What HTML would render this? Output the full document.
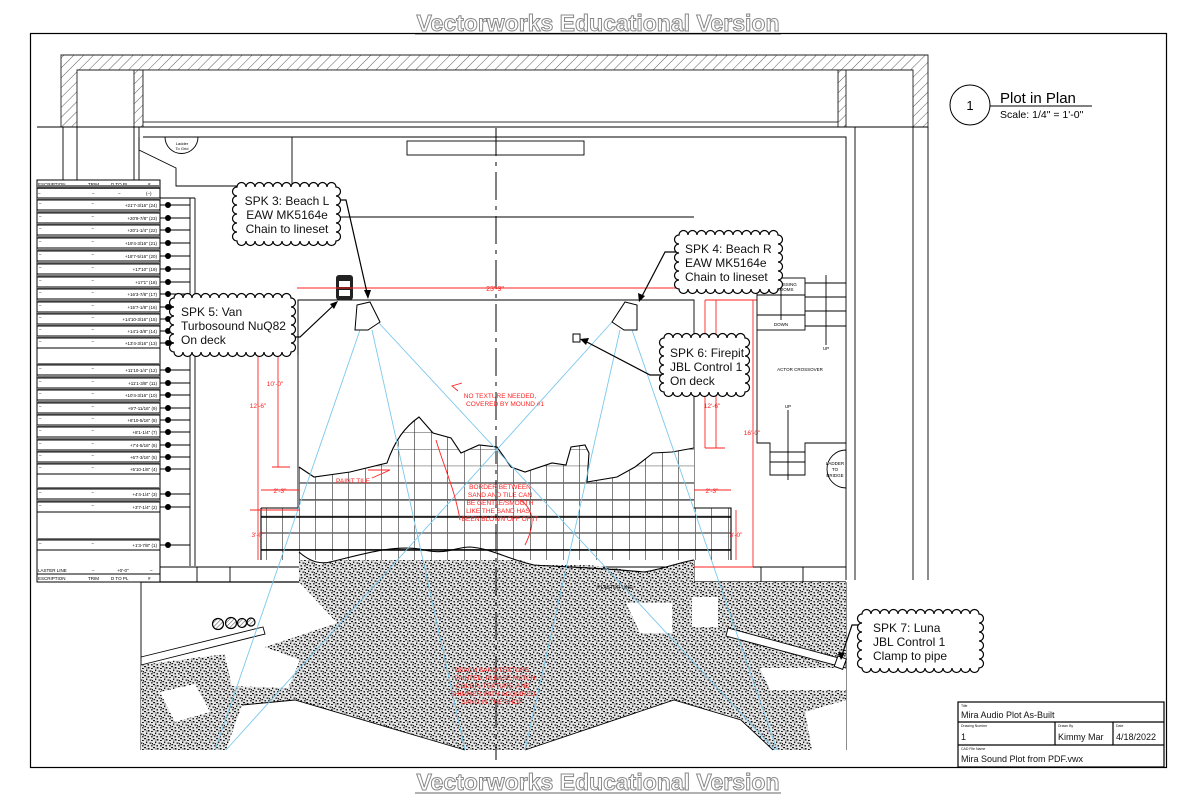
<!DOCTYPE html>
<html><head><meta charset="utf-8"><style>
html,body{margin:0;padding:0;background:#fff}
svg{display:block}
text{font-family:"Liberation Sans",sans-serif}
</style></head><body>
<svg width="1196" height="800" viewBox="0 0 1196 800" xmlns="http://www.w3.org/2000/svg">
<defs>
<pattern id="hatch" width="7" height="7" patternUnits="userSpaceOnUse" patternTransform="rotate(45)">
<line x1="0" y1="0" x2="0" y2="7" stroke="#333" stroke-width="0.8"/>
</pattern>
<pattern id="hatch2" width="3" height="3" patternUnits="userSpaceOnUse" patternTransform="rotate(45)">
<line x1="0" y1="0" x2="0" y2="3" stroke="#222" stroke-width="0.8"/>
</pattern>
<pattern id="stip" width="9" height="9" patternUnits="userSpaceOnUse">
<rect width="9" height="9" fill="#e4e4e4"/>
<rect x="0" y="0" width="2" height="1.2" fill="#111"/>
<rect x="4" y="1" width="1.5" height="1.5" fill="#111"/>
<rect x="7" y="2" width="1.8" height="1" fill="#111"/>
<rect x="2" y="3.5" width="1.3" height="1.6" fill="#111"/>
<rect x="5.5" y="4.5" width="2" height="1.2" fill="#111"/>
<rect x="0.5" y="6" width="1.6" height="1.2" fill="#111"/>
<rect x="3.5" y="7" width="1.4" height="1.5" fill="#111"/>
<rect x="7" y="7.2" width="1.6" height="1.2" fill="#111"/>
<rect x="8" y="5" width="1" height="1.4" fill="#111"/>
<rect x="2.5" y="1.5" width="1" height="1" fill="#111"/>
</pattern>
<pattern id="grid" width="16.5" height="16.7" patternUnits="userSpaceOnUse" x="299" y="449">
<line x1="0" y1="0" x2="0" y2="17" stroke="#000" stroke-width="1"/>
<line x1="0" y1="0" x2="17" y2="0" stroke="#444" stroke-width="1"/>
</pattern>
<clipPath id="tileclip"><path d="M299,467 L314,477 L350,472 L387,463 L405,427 L419,417 L433,433 L451,438 L461,453 L479,445 L497,447 L511,467 L525,472 L552,463 L566,465 L571,447 L585,445 L589,453 L587,482 L617,477 L635,467 L653,453 L672,452 L694,448 L694,508 L731,508 L731,560 L261,560 L261,508 L299,508 Z"/></clipPath>
</defs>

<text x="598" y="31" text-anchor="middle" font-size="23" font-weight="bold" fill="#fff" stroke="#888" stroke-width="1">Vectorworks Educational Version</text>
<line x1="415" y1="34" x2="781" y2="34" stroke="#999" stroke-width="1.5"/>
<text x="598" y="790" text-anchor="middle" font-size="23" font-weight="bold" fill="#fff" stroke="#888" stroke-width="1">Vectorworks Educational Version</text>
<line x1="415" y1="793" x2="781" y2="793" stroke="#999" stroke-width="1.5"/>

<rect x="30.5" y="33.5" width="1136" height="734" fill="none" stroke="#000" stroke-width="1.2"/>

<g stroke="#222" stroke-width="0.9">
<path d="M61,55 H928 V127 H913 V70 H77 V127 H61 Z" fill="url(#hatch)"/>
<rect x="134" y="70" width="9" height="57" fill="url(#hatch)"/>
<rect x="838" y="70" width="8" height="57" fill="url(#hatch)"/>
<rect x="143" y="70" width="695" height="52" fill="#fff"/>
</g>
<g stroke="#000" fill="none" stroke-width="0.9">
<line x1="37" y1="127" x2="928" y2="127" stroke-width="1.1"/>
<line x1="63" y1="127" x2="63" y2="180"/>
<line x1="77" y1="127" x2="77" y2="180"/>
<line x1="134" y1="127" x2="134" y2="180"/>
<line x1="139" y1="127" x2="139" y2="180"/>
<path d="M143,137 H846 V580"/>
<line x1="855" y1="127" x2="855" y2="580"/>
<line x1="913" y1="127" x2="913" y2="580"/>
<line x1="928" y1="127" x2="928" y2="580"/>
<path d="M139,137 L139,150 L176,168 L176,186 L292,186 L292,137"/>
<path d="M165,137 A16,16 0 0 0 198,137"/>
<rect x="407" y="141" width="177" height="14"/>
<line x1="335" y1="217" x2="694" y2="217"/>
<line x1="190" y1="198" x2="190" y2="566"/>
<line x1="195" y1="198" x2="195" y2="566"/>
<line x1="143" y1="198" x2="195" y2="198"/>
<path d="M298,355 V300 H694 V582"/>
<line x1="298" y1="300" x2="298" y2="560"/>
<line x1="130" y1="567" x2="846" y2="567"/>
<line x1="141" y1="582" x2="846" y2="582" stroke-width="1.2"/>
<line x1="141" y1="582" x2="141" y2="750"/>
<line x1="846" y1="582" x2="846" y2="750"/>
<line x1="197" y1="567" x2="197" y2="582"/><line x1="230" y1="567" x2="230" y2="582"/>
<line x1="761" y1="567" x2="761" y2="582"/><line x1="803" y1="567" x2="803" y2="582"/>
</g>
<text x="182" y="145" font-size="4" text-anchor="middle">Ladder</text>
<text x="182" y="150" font-size="4" text-anchor="middle">To Grid</text>

<path d="M299,552 L318,565 L350,557 L405,547 L442,555 L470,547 L497,552 L534,565 L589,565 L644,572 L694,560 L694,582 L846,582 L846,750 L141,750 L141,665 L256,650 L337,623 L299,582 Z" fill="url(#stip)"/>
<g fill="#fff">
<path d="M242,705 L295,700 L465,750 L226,750 Z"/>
<path d="M525,750 L674,700 L741,720 L773,750 Z"/>
<path d="M626,603 L672,603 L672,633 L640,633 Z"/>
<path d="M692,597 L718,597 L718,627 L692,627 Z"/>
<path d="M160,692 L195,684 L210,712 L175,722 Z"/>
<path d="M224,652 L262,646 L300,660 L288,688 L232,686 Z"/>
<path d="M805,712 L846,700 L846,750 L812,750 Z"/>
<path d="M760,668 L846,668 L846,690 L770,690 Z"/>
</g>
<g stroke="#000" fill="none" stroke-width="0.9">
<path d="M242,705 L295,700 L465,750"/>
<path d="M525,750 L674,700 L741,720 L773,750"/>
<path d="M141,657 L263,627 L265,634 L141,665"/>
<path d="M728,628 L846,660 L846,668 L726,636 Z" fill="#fff"/>
</g>
<g fill="url(#hatch2)" stroke="#000" stroke-width="1.2">
<circle cx="218" cy="624" r="5.5"/><circle cx="231" cy="623" r="5.5"/><circle cx="242" cy="623" r="4.5"/><circle cx="251" cy="622" r="4"/>
</g>

<g clip-path="url(#tileclip)">
<rect x="255" y="400" width="480" height="170" fill="#fff"/>
<rect x="255" y="400" width="480" height="170" fill="url(#grid)"/>
<g stroke="#000" stroke-width="1.4"><line x1="255" y1="517" x2="735" y2="517"/><line x1="255" y1="550" x2="735" y2="550"/></g>
<g stroke="#666" stroke-width="1.5"><line x1="255" y1="483" x2="735" y2="483"/><line x1="255" y1="500" x2="735" y2="500"/><line x1="255" y1="533" x2="735" y2="533"/></g>
</g>
<path d="M261,508 H299 M299,467 L314,477 L350,472 L387,463 C395,440 405,427 419,417 L433,433 L451,438 L461,453 L479,445 L497,447 L511,467 L525,472 L552,463 L566,465 L571,447 L585,445 L589,453 L587,482 L617,477 L635,467 L653,453 L672,452 L694,448 M694,508 H731 V560 M261,508 V560" fill="none" stroke="#000" stroke-width="1.1"/>
<path d="M299,552 C308,560 318,565 330,562 C360,555 390,545 420,549 C445,556 455,547 470,547 C490,548 510,560 534,565 C560,567 589,567 644,572 C660,570 680,562 694,560" fill="none" stroke="#000" stroke-width="1.1"/>

<line x1="496" y1="128" x2="496" y2="760" stroke="#000" stroke-width="1" stroke-dasharray="28,6,4,6"/>

<g stroke="#7cc8ec" stroke-width="0.9" fill="none">
<line x1="360" y1="330" x2="215" y2="750"/>
<line x1="372" y1="330" x2="465" y2="750"/>
<line x1="378" y1="322" x2="775" y2="750"/>
<line x1="612" y1="322" x2="226" y2="750"/>
<line x1="620" y1="330" x2="525" y2="750"/>
<line x1="632" y1="330" x2="777" y2="750"/>
</g>

<path d="M357,305 L370,302 L380,322 L368,330 L355,330 Z" fill="#fff" stroke="#000" stroke-width="1"/>
<path d="M625,302 L637,305 L637,330 L624,330 L612,322 Z" fill="#fff" stroke="#000" stroke-width="1"/>
<rect x="573" y="334" width="7" height="8" fill="#fff" stroke="#000"/>
<rect x="336" y="275" width="17" height="25" fill="#222" rx="3"/>
<rect x="339" y="281" width="11" height="6" fill="#fff"/><rect x="339" y="290" width="11" height="6" fill="#fff"/>
<rect x="836" y="657" width="9" height="11" fill="#fff" stroke="#000" transform="rotate(20 840 662)"/>

<g stroke="#f22" stroke-width="0.9" fill="none">
<line x1="297" y1="288" x2="697" y2="288"/>
<line x1="278" y1="300" x2="278" y2="467"/><line x1="272" y1="467" x2="290" y2="467"/>
<line x1="258" y1="300" x2="258" y2="510"/><line x1="250" y1="510" x2="300" y2="510"/>
<line x1="258" y1="510" x2="258" y2="560"/>
<line x1="261" y1="490" x2="299" y2="490"/>
<line x1="716" y1="300" x2="716" y2="448"/><line x1="705" y1="448" x2="725" y2="448"/>
<line x1="694" y1="490" x2="731" y2="490"/>
<line x1="736" y1="510" x2="736" y2="560"/>
<line x1="753" y1="300" x2="753" y2="567"/>
<line x1="705" y1="300" x2="757" y2="300"/>
<line x1="705" y1="300" x2="705" y2="448"/>
<line x1="694" y1="567" x2="753" y2="567"/>
<path d="M458,391 L452,386 L462,383"/>
<path d="M368,470 L390,470 L372,478"/>
<path d="M436,440 C445,470 455,490 460,520"/>
<path d="M520,500 C535,510 535,525 525,545"/>
</g>
<g fill="#f22" font-size="6.5" text-anchor="middle">
<text x="495" y="291" font-size="7">23'-9"</text>
<text x="275" y="386">10'-0"</text>
<text x="258" y="408">12'-6"</text>
<text x="258" y="537">3'-0"</text>
<text x="280" y="493">2'-3"</text>
<text x="712" y="408">12'-6"</text>
<text x="712" y="493">2'-3"</text>
<text x="736" y="537">3'-0"</text>
<text x="752" y="435">16'-0"</text>
<text x="500" y="398">NO TEXTURE NEEDED,</text>
<text x="505" y="406">COVERED BY MOUND #1</text>
<text x="353" y="483">PAINT TILE</text>
<text x="500" y="489">BORDER BETWEEN</text>
<text x="500" y="497">SAND AND TILE CAN</text>
<text x="500" y="505">BE GENTLE/SMOOTH</text>
<text x="498" y="513">LIKE THE SAND HAS</text>
<text x="500" y="521">BEEN BLOWN OFF OF IT</text>
<text x="492" y="672">BEACH SAND TEXTURE</text>
<text x="495" y="680">PAINTED. PLEASE MATCH</text>
<text x="493" y="688">COLOR, TEXTURE, AND</text>
<text x="493" y="696">SHIMMER WITH ACQUIRED</text>
<text x="492" y="704">SAND IN THE SHOP</text>
</g>
<text x="615" y="589" font-size="5" text-anchor="middle">PLASTER LINE</text>

<g stroke="#000" fill="none" stroke-width="0.9">
<rect x="757" y="278" width="48" height="52"/>
<line x1="757" y1="295" x2="805" y2="295"/><line x1="757" y1="315" x2="805" y2="315"/>
<line x1="805" y1="283" x2="846" y2="283"/><line x1="805" y1="297" x2="846" y2="297"/><line x1="805" y1="311" x2="846" y2="311"/><line x1="805" y1="326" x2="846" y2="326"/>
<line x1="781" y1="283" x2="781" y2="320"/>
<line x1="826" y1="275" x2="826" y2="345"/>
<path d="M757,330 V443 H770 V475 H805 V443 H846"/>
<line x1="770" y1="452" x2="805" y2="452"/><line x1="770" y1="462" x2="805" y2="462"/>
<line x1="788" y1="410" x2="788" y2="480"/>
<path d="M846,450 A18,18 0 0 0 846,488 Z" fill="#fff"/>
</g>
<g font-size="4.5" text-anchor="middle">
<text x="785" y="286">DRESSING</text><text x="785" y="291">ROOMS</text>
<text x="781" y="326">DOWN</text>
<text x="826" y="350">UP</text>
<text x="800" y="371">ACTOR  CROSSOVER</text>
<text x="788" y="408">UP</text>
<text x="835" y="465">LADDER</text><text x="835" y="471">TO</text><text x="835" y="477">BRIDGE</text>
</g>

<g stroke="#000" stroke-width="1" fill="none">
<rect x="37" y="180" width="123" height="402" fill="#fff"/>
<line x1="37" y1="188" x2="160" y2="188"/>
<line x1="37" y1="574" x2="160" y2="574"/>
</g>
<g font-size="4.5" fill="#000">
<text x="38" y="186">ESCRIPTION</text><text x="88" y="186">TRIM</text><text x="111" y="186">D TO PL</text><text x="148" y="186">#</text>
<text x="38" y="572">LASTER LINE</text><text x="92" y="572">–</text><text x="117" y="572">+0'-0"</text><text x="150" y="572">–</text>
<text x="38" y="580">ESCRIPTION</text><text x="88" y="580">TRIM</text><text x="111" y="580">D TO PL</text><text x="148" y="580">#</text>
</g>
<line x1="37" y1="188" x2="160" y2="188" stroke="#888" stroke-width="2"/>
<g font-size="4.5">
<g transform="translate(0,193)"><line x1="37" y1="-7" x2="160" y2="-7" stroke="#777" stroke-width="2"/><rect x="37" y="-5" width="123" height="10" fill="none" stroke="#000"/><text x="38" y="2">–</text><text x="92" y="2">–</text><text x="118" y="2">–</text><text x="146" y="2">(–)</text></g>
</g>
<g font-size="4.5" text-anchor="end">
<g transform="translate(0,205)"><line x1="37" y1="-6" x2="160" y2="-6" stroke="#777" stroke-width="2"/><rect x="37" y="-5" width="123" height="10" fill="none" stroke="#000"/><text x="39" y="0" text-anchor="start">–</text><text x="94" y="0">–</text><text x="157" y="2">+21'7-3/16" (24)</text></g>
<g transform="translate(0,218)"><line x1="37" y1="-6" x2="160" y2="-6" stroke="#777" stroke-width="2"/><rect x="37" y="-5" width="123" height="10" fill="none" stroke="#000"/><text x="39" y="0" text-anchor="start">–</text><text x="94" y="0">–</text><text x="157" y="2">+20'9-7/8" (23)</text></g>
<g transform="translate(0,230)"><line x1="37" y1="-6" x2="160" y2="-6" stroke="#777" stroke-width="2"/><rect x="37" y="-5" width="123" height="10" fill="none" stroke="#000"/><text x="39" y="0" text-anchor="start">–</text><text x="94" y="0">–</text><text x="157" y="2">+20'1-1/4" (22)</text></g>
<g transform="translate(0,243)"><line x1="37" y1="-6" x2="160" y2="-6" stroke="#777" stroke-width="2"/><rect x="37" y="-5" width="123" height="10" fill="none" stroke="#000"/><text x="39" y="0" text-anchor="start">–</text><text x="94" y="0">–</text><text x="157" y="2">+19'4-3/16" (21)</text></g>
<g transform="translate(0,256)"><line x1="37" y1="-6" x2="160" y2="-6" stroke="#777" stroke-width="2"/><rect x="37" y="-5" width="123" height="10" fill="none" stroke="#000"/><text x="39" y="0" text-anchor="start">–</text><text x="94" y="0">–</text><text x="157" y="2">+18'7-5/16" (20)</text></g>
<g transform="translate(0,269)"><line x1="37" y1="-6" x2="160" y2="-6" stroke="#777" stroke-width="2"/><rect x="37" y="-5" width="123" height="10" fill="none" stroke="#000"/><text x="39" y="0" text-anchor="start">–</text><text x="94" y="0">–</text><text x="157" y="2">+17'10" (19)</text></g>
<g transform="translate(0,282)"><line x1="37" y1="-6" x2="160" y2="-6" stroke="#777" stroke-width="2"/><rect x="37" y="-5" width="123" height="10" fill="none" stroke="#000"/><text x="39" y="0" text-anchor="start">–</text><text x="94" y="0">–</text><text x="157" y="2">+17'1" (18)</text></g>
<g transform="translate(0,294)"><line x1="37" y1="-6" x2="160" y2="-6" stroke="#777" stroke-width="2"/><rect x="37" y="-5" width="123" height="10" fill="none" stroke="#000"/><text x="39" y="0" text-anchor="start">–</text><text x="94" y="0">–</text><text x="157" y="2">+16'3-7/8" (17)</text></g>
<g transform="translate(0,307)"><line x1="37" y1="-6" x2="160" y2="-6" stroke="#777" stroke-width="2"/><rect x="37" y="-5" width="123" height="10" fill="none" stroke="#000"/><text x="39" y="0" text-anchor="start">–</text><text x="94" y="0">–</text><text x="157" y="2">+15'7-1/8" (16)</text></g>
<g transform="translate(0,319)"><line x1="37" y1="-6" x2="160" y2="-6" stroke="#777" stroke-width="2"/><rect x="37" y="-5" width="123" height="10" fill="none" stroke="#000"/><text x="39" y="0" text-anchor="start">–</text><text x="94" y="0">–</text><text x="157" y="2">+14'10-3/16" (15)</text></g>
<g transform="translate(0,331)"><line x1="37" y1="-6" x2="160" y2="-6" stroke="#777" stroke-width="2"/><rect x="37" y="-5" width="123" height="10" fill="none" stroke="#000"/><text x="39" y="0" text-anchor="start">–</text><text x="94" y="0">–</text><text x="157" y="2">+14'1-3/8" (14)</text></g>
<g transform="translate(0,343)"><line x1="37" y1="-6" x2="160" y2="-6" stroke="#777" stroke-width="2"/><rect x="37" y="-5" width="123" height="10" fill="none" stroke="#000"/><text x="39" y="0" text-anchor="start">–</text><text x="94" y="0">–</text><text x="157" y="2">+13'4-3/16" (13)</text></g>
<g transform="translate(0,370)"><line x1="37" y1="-6" x2="160" y2="-6" stroke="#777" stroke-width="2"/><rect x="37" y="-5" width="123" height="10" fill="none" stroke="#000"/><text x="39" y="0" text-anchor="start">–</text><text x="94" y="0">–</text><text x="157" y="2">+11'10-1/4" (12)</text></g>
<g transform="translate(0,383)"><line x1="37" y1="-6" x2="160" y2="-6" stroke="#777" stroke-width="2"/><rect x="37" y="-5" width="123" height="10" fill="none" stroke="#000"/><text x="39" y="0" text-anchor="start">–</text><text x="94" y="0">–</text><text x="157" y="2">+11'1-3/8" (11)</text></g>
<g transform="translate(0,395)"><line x1="37" y1="-6" x2="160" y2="-6" stroke="#777" stroke-width="2"/><rect x="37" y="-5" width="123" height="10" fill="none" stroke="#000"/><text x="39" y="0" text-anchor="start">–</text><text x="94" y="0">–</text><text x="157" y="2">+10'4-3/16" (10)</text></g>
<g transform="translate(0,408)"><line x1="37" y1="-6" x2="160" y2="-6" stroke="#777" stroke-width="2"/><rect x="37" y="-5" width="123" height="10" fill="none" stroke="#000"/><text x="39" y="0" text-anchor="start">–</text><text x="94" y="0">–</text><text x="157" y="2">+9'7-11/16" (9)</text></g>
<g transform="translate(0,420)"><line x1="37" y1="-6" x2="160" y2="-6" stroke="#777" stroke-width="2"/><rect x="37" y="-5" width="123" height="10" fill="none" stroke="#000"/><text x="39" y="0" text-anchor="start">–</text><text x="94" y="0">–</text><text x="157" y="2">+8'10-5/16" (8)</text></g>
<g transform="translate(0,432)"><line x1="37" y1="-6" x2="160" y2="-6" stroke="#777" stroke-width="2"/><rect x="37" y="-5" width="123" height="10" fill="none" stroke="#000"/><text x="39" y="0" text-anchor="start">–</text><text x="94" y="0">–</text><text x="157" y="2">+8'1-1/4" (7)</text></g>
<g transform="translate(0,445)"><line x1="37" y1="-6" x2="160" y2="-6" stroke="#777" stroke-width="2"/><rect x="37" y="-5" width="123" height="10" fill="none" stroke="#000"/><text x="39" y="0" text-anchor="start">–</text><text x="94" y="0">–</text><text x="157" y="2">+7'4-5/16" (6)</text></g>
<g transform="translate(0,457)"><line x1="37" y1="-6" x2="160" y2="-6" stroke="#777" stroke-width="2"/><rect x="37" y="-5" width="123" height="10" fill="none" stroke="#000"/><text x="39" y="0" text-anchor="start">–</text><text x="94" y="0">–</text><text x="157" y="2">+6'7-3/16" (5)</text></g>
<g transform="translate(0,469)"><line x1="37" y1="-6" x2="160" y2="-6" stroke="#777" stroke-width="2"/><rect x="37" y="-5" width="123" height="10" fill="none" stroke="#000"/><text x="39" y="0" text-anchor="start">–</text><text x="94" y="0">–</text><text x="157" y="2">+5'10-1/8" (4)</text></g>
<g transform="translate(0,494)"><line x1="37" y1="-6" x2="160" y2="-6" stroke="#777" stroke-width="2"/><rect x="37" y="-5" width="123" height="10" fill="none" stroke="#000"/><text x="39" y="0" text-anchor="start">–</text><text x="94" y="0">–</text><text x="157" y="2">+4'4-1/4" (3)</text></g>
<g transform="translate(0,507)"><line x1="37" y1="-6" x2="160" y2="-6" stroke="#777" stroke-width="2"/><rect x="37" y="-5" width="123" height="10" fill="none" stroke="#000"/><text x="39" y="0" text-anchor="start">–</text><text x="94" y="0">–</text><text x="157" y="2">+3'7-1/4" (2)</text></g>
<g transform="translate(0,545)"><line x1="37" y1="-6" x2="160" y2="-6" stroke="#777" stroke-width="2"/><rect x="37" y="-5" width="123" height="10" fill="none" stroke="#000"/><text x="39" y="0" text-anchor="start">–</text><text x="94" y="0">–</text><text x="157" y="2">+1'3-7/8" (1)</text></g>
</g>
<g stroke="#000" stroke-width="1">
<path d="M160,205H190M160,218H190M160,230H190M160,243H190M160,256H190M160,269H190M160,282H190M160,294H190M160,307H190M160,319H190M160,331H190M160,343H190M160,370H190M160,383H190M160,395H190M160,408H190M160,420H190M160,432H190M160,445H190M160,457H190M160,469H190M160,494H190M160,507H190M160,545H190"/>
</g>
<g fill="#000">
<circle cx="168" cy="205" r="3"/><circle cx="168" cy="218" r="3"/><circle cx="168" cy="230" r="3"/><circle cx="168" cy="243" r="3"/><circle cx="168" cy="256" r="3"/><circle cx="168" cy="269" r="3"/><circle cx="168" cy="282" r="3"/><circle cx="168" cy="294" r="3"/><circle cx="168" cy="307" r="3"/><circle cx="168" cy="319" r="3"/><circle cx="168" cy="331" r="3"/><circle cx="168" cy="343" r="3"/><circle cx="168" cy="370" r="3"/><circle cx="168" cy="383" r="3"/><circle cx="168" cy="395" r="3"/><circle cx="168" cy="408" r="3"/><circle cx="168" cy="420" r="3"/><circle cx="168" cy="432" r="3"/><circle cx="168" cy="445" r="3"/><circle cx="168" cy="457" r="3"/><circle cx="168" cy="469" r="3"/><circle cx="168" cy="494" r="3"/><circle cx="168" cy="507" r="3"/><circle cx="168" cy="545" r="3"/>
</g>

<g stroke="#000" stroke-width="1.2" fill="none">
<path d="M335,200 H346 L368,297"/>
<path d="M679,252 H665 L640,300"/>
<path d="M288,337 H300 L336,303"/>
<path d="M664,375 H650 L583,340"/>
<path d="M862,625 H852 L841,658"/>
</g>
<g fill="#000">
<path d="M368,299 L364,290 L371,290 Z"/>
<path d="M639,302 L638,293 L645,296 Z"/>
<path d="M338,301 L330,304 L334,309 Z"/>
<path d="M580,339 L586,345 L589,338 Z"/>
<path d="M841,660 L838,652 L845,653 Z"/>
</g>

<g fill="#fff" stroke="#000" stroke-width="1.2">
<path d="M237,187 a4.5,4.5 0 0 1 9,0 a4.5,4.5 0 0 1 9,0 a4.5,4.5 0 0 1 9,0 a4.5,4.5 0 0 1 9,0 a4.5,4.5 0 0 1 9,0 a4.5,4.5 0 0 1 9,0 a4.5,4.5 0 0 1 9,0 a4.5,4.5 0 0 1 9,0 a4.5,4.5 0 0 1 9,0 a4.5,4.5 0 0 1 9,0 a4.5,4.5 0 0 1 9,0 a4.5,4.5 0 0 1 0,9 a4.5,4.5 0 0 1 0,9 a4.5,4.5 0 0 1 0,9 a4.5,4.5 0 0 1 0,9 a4.5,4.5 0 0 1 0,9 a4.5,4.5 0 0 1 0,9 a4.5,4.5 0 0 1 -9,0 a4.5,4.5 0 0 1 -9,0 a4.5,4.5 0 0 1 -9,0 a4.5,4.5 0 0 1 -9,0 a4.5,4.5 0 0 1 -9,0 a4.5,4.5 0 0 1 -9,0 a4.5,4.5 0 0 1 -9,0 a4.5,4.5 0 0 1 -9,0 a4.5,4.5 0 0 1 -9,0 a4.5,4.5 0 0 1 -9,0 a4.5,4.5 0 0 1 -9,0 a4.5,4.5 0 0 1 0,-9 a4.5,4.5 0 0 1 0,-9 a4.5,4.5 0 0 1 0,-9 a4.5,4.5 0 0 1 0,-9 a4.5,4.5 0 0 1 0,-9 a4.5,4.5 0 0 1 0,-9 Z"/>
<path d="M679,235 a4.5,4.5 0 0 1 9,0 a4.5,4.5 0 0 1 9,0 a4.5,4.5 0 0 1 9,0 a4.5,4.5 0 0 1 9,0 a4.5,4.5 0 0 1 9,0 a4.5,4.5 0 0 1 9,0 a4.5,4.5 0 0 1 9,0 a4.5,4.5 0 0 1 9,0 a4.5,4.5 0 0 1 9,0 a4.5,4.5 0 0 1 9,0 a4.5,4.5 0 0 1 9,0 a4.5,4.5 0 0 1 0,9 a4.5,4.5 0 0 1 0,9 a4.5,4.5 0 0 1 0,9 a4.5,4.5 0 0 1 0,9 a4.5,4.5 0 0 1 0,9 a4.5,4.5 0 0 1 0,9 a4.5,4.5 0 0 1 -9,0 a4.5,4.5 0 0 1 -9,0 a4.5,4.5 0 0 1 -9,0 a4.5,4.5 0 0 1 -9,0 a4.5,4.5 0 0 1 -9,0 a4.5,4.5 0 0 1 -9,0 a4.5,4.5 0 0 1 -9,0 a4.5,4.5 0 0 1 -9,0 a4.5,4.5 0 0 1 -9,0 a4.5,4.5 0 0 1 -9,0 a4.5,4.5 0 0 1 -9,0 a4.5,4.5 0 0 1 0,-9 a4.5,4.5 0 0 1 0,-9 a4.5,4.5 0 0 1 0,-9 a4.5,4.5 0 0 1 0,-9 a4.5,4.5 0 0 1 0,-9 a4.5,4.5 0 0 1 0,-9 Z"/>
<path d="M174,298 a4.5,4.5 0 0 1 9,0 a4.5,4.5 0 0 1 9,0 a4.5,4.5 0 0 1 9,0 a4.5,4.5 0 0 1 9,0 a4.5,4.5 0 0 1 9,0 a4.5,4.5 0 0 1 9,0 a4.5,4.5 0 0 1 9,0 a4.5,4.5 0 0 1 9,0 a4.5,4.5 0 0 1 9,0 a4.5,4.5 0 0 1 9,0 a4.5,4.5 0 0 1 9,0 a4.5,4.5 0 0 1 9,0 a4.5,4.5 0 0 1 9,0 a4.5,4.5 0 0 1 0,9 a4.5,4.5 0 0 1 0,9 a4.5,4.5 0 0 1 0,9 a4.5,4.5 0 0 1 0,9 a4.5,4.5 0 0 1 0,9 a4.5,4.5 0 0 1 0,9 a4.5,4.5 0 0 1 -9,0 a4.5,4.5 0 0 1 -9,0 a4.5,4.5 0 0 1 -9,0 a4.5,4.5 0 0 1 -9,0 a4.5,4.5 0 0 1 -9,0 a4.5,4.5 0 0 1 -9,0 a4.5,4.5 0 0 1 -9,0 a4.5,4.5 0 0 1 -9,0 a4.5,4.5 0 0 1 -9,0 a4.5,4.5 0 0 1 -9,0 a4.5,4.5 0 0 1 -9,0 a4.5,4.5 0 0 1 -9,0 a4.5,4.5 0 0 1 -9,0 a4.5,4.5 0 0 1 0,-9 a4.5,4.5 0 0 1 0,-9 a4.5,4.5 0 0 1 0,-9 a4.5,4.5 0 0 1 0,-9 a4.5,4.5 0 0 1 0,-9 a4.5,4.5 0 0 1 0,-9 Z"/>
<path d="M664,338 a4.5,4.5 0 0 1 9,0 a4.5,4.5 0 0 1 9,0 a4.5,4.5 0 0 1 9,0 a4.5,4.5 0 0 1 9,0 a4.5,4.5 0 0 1 9,0 a4.5,4.5 0 0 1 9,0 a4.5,4.5 0 0 1 9,0 a4.5,4.5 0 0 1 9,0 a4.5,4.5 0 0 1 9,0 a4.5,4.5 0 0 1 0,9 a4.5,4.5 0 0 1 0,9 a4.5,4.5 0 0 1 0,9 a4.5,4.5 0 0 1 0,9 a4.5,4.5 0 0 1 0,9 a4.5,4.5 0 0 1 0,9 a4.5,4.5 0 0 1 -9,0 a4.5,4.5 0 0 1 -9,0 a4.5,4.5 0 0 1 -9,0 a4.5,4.5 0 0 1 -9,0 a4.5,4.5 0 0 1 -9,0 a4.5,4.5 0 0 1 -9,0 a4.5,4.5 0 0 1 -9,0 a4.5,4.5 0 0 1 -9,0 a4.5,4.5 0 0 1 -9,0 a4.5,4.5 0 0 1 0,-9 a4.5,4.5 0 0 1 0,-9 a4.5,4.5 0 0 1 0,-9 a4.5,4.5 0 0 1 0,-9 a4.5,4.5 0 0 1 0,-9 a4.5,4.5 0 0 1 0,-9 Z"/>
<path d="M862,614 a4.5,4.5 0 0 1 9,0 a4.5,4.5 0 0 1 9,0 a4.5,4.5 0 0 1 9,0 a4.5,4.5 0 0 1 9,0 a4.5,4.5 0 0 1 9,0 a4.5,4.5 0 0 1 9,0 a4.5,4.5 0 0 1 9,0 a4.5,4.5 0 0 1 9,0 a4.5,4.5 0 0 1 9,0 a4.5,4.5 0 0 1 9,0 a4.5,4.5 0 0 1 9,0 a4.5,4.5 0 0 1 9,0 a4.5,4.5 0 0 1 9,0 a4.5,4.5 0 0 1 0,9 a4.5,4.5 0 0 1 0,9 a4.5,4.5 0 0 1 0,9 a4.5,4.5 0 0 1 0,9 a4.5,4.5 0 0 1 0,9 a4.5,4.5 0 0 1 0,9 a4.5,4.5 0 0 1 -9,0 a4.5,4.5 0 0 1 -9,0 a4.5,4.5 0 0 1 -9,0 a4.5,4.5 0 0 1 -9,0 a4.5,4.5 0 0 1 -9,0 a4.5,4.5 0 0 1 -9,0 a4.5,4.5 0 0 1 -9,0 a4.5,4.5 0 0 1 -9,0 a4.5,4.5 0 0 1 -9,0 a4.5,4.5 0 0 1 -9,0 a4.5,4.5 0 0 1 -9,0 a4.5,4.5 0 0 1 -9,0 a4.5,4.5 0 0 1 -9,0 a4.5,4.5 0 0 1 0,-9 a4.5,4.5 0 0 1 0,-9 a4.5,4.5 0 0 1 0,-9 a4.5,4.5 0 0 1 0,-9 a4.5,4.5 0 0 1 0,-9 a4.5,4.5 0 0 1 0,-9 Z"/>
</g>
<g font-size="12" fill="#111">
<text x="287" y="205" text-anchor="middle">SPK 3: Beach L</text>
<text x="287" y="219" text-anchor="middle">EAW MK5164e</text>
<text x="287" y="233" text-anchor="middle">Chain to lineset</text>
<text x="685" y="253">SPK 4: Beach R</text>
<text x="685" y="267">EAW MK5164e</text>
<text x="685" y="281">Chain to lineset</text>
<text x="181" y="316">SPK 5: Van</text>
<text x="181" y="330">Turbosound NuQ82</text>
<text x="181" y="344">On deck</text>
<text x="670" y="357">SPK 6: Firepit</text>
<text x="670" y="371">JBL Control 1</text>
<text x="670" y="385">On deck</text>
<text x="873" y="632">SPK 7: Luna</text>
<text x="873" y="646">JBL Control 1</text>
<text x="873" y="660">Clamp to pipe</text>
</g>

<circle cx="970" cy="105" r="20" fill="#fff" stroke="#000" stroke-width="1"/>
<text x="970" y="110" font-size="13" text-anchor="middle">1</text>
<line x1="990" y1="106" x2="1092" y2="106" stroke="#000"/>
<text x="1000" y="103" font-size="15">Plot in Plan</text>
<text x="1000" y="118" font-size="10.5">Scale: 1/4" = 1'-0"</text>

<g stroke="#000" stroke-width="1.2" fill="none">
<rect x="958" y="702" width="206" height="65"/>
<line x1="958" y1="722" x2="1164" y2="722"/>
<line x1="958" y1="745" x2="1164" y2="745"/>
<line x1="1055" y1="722" x2="1055" y2="745"/>
<line x1="1113" y1="722" x2="1113" y2="745"/>
</g>
<g fill="#111">
<text x="961" y="707" font-size="3.5">Title</text>
<text x="961" y="718" font-size="9">Mira Audio Plot As-Built</text>
<text x="961" y="727" font-size="3.5">Drawing Number</text>
<text x="961" y="740" font-size="9">1</text>
<text x="1058" y="727" font-size="3.5">Drawn By</text>
<text x="1058" y="740" font-size="9">Kimmy Mar</text>
<text x="1116" y="727" font-size="3.5">Date</text>
<text x="1116" y="740" font-size="9">4/18/2022</text>
<text x="961" y="750" font-size="3.5">CAD File Name</text>
<text x="961" y="762" font-size="9">Mira Sound Plot from PDF.vwx</text>
</g>
</svg>
</body></html>
